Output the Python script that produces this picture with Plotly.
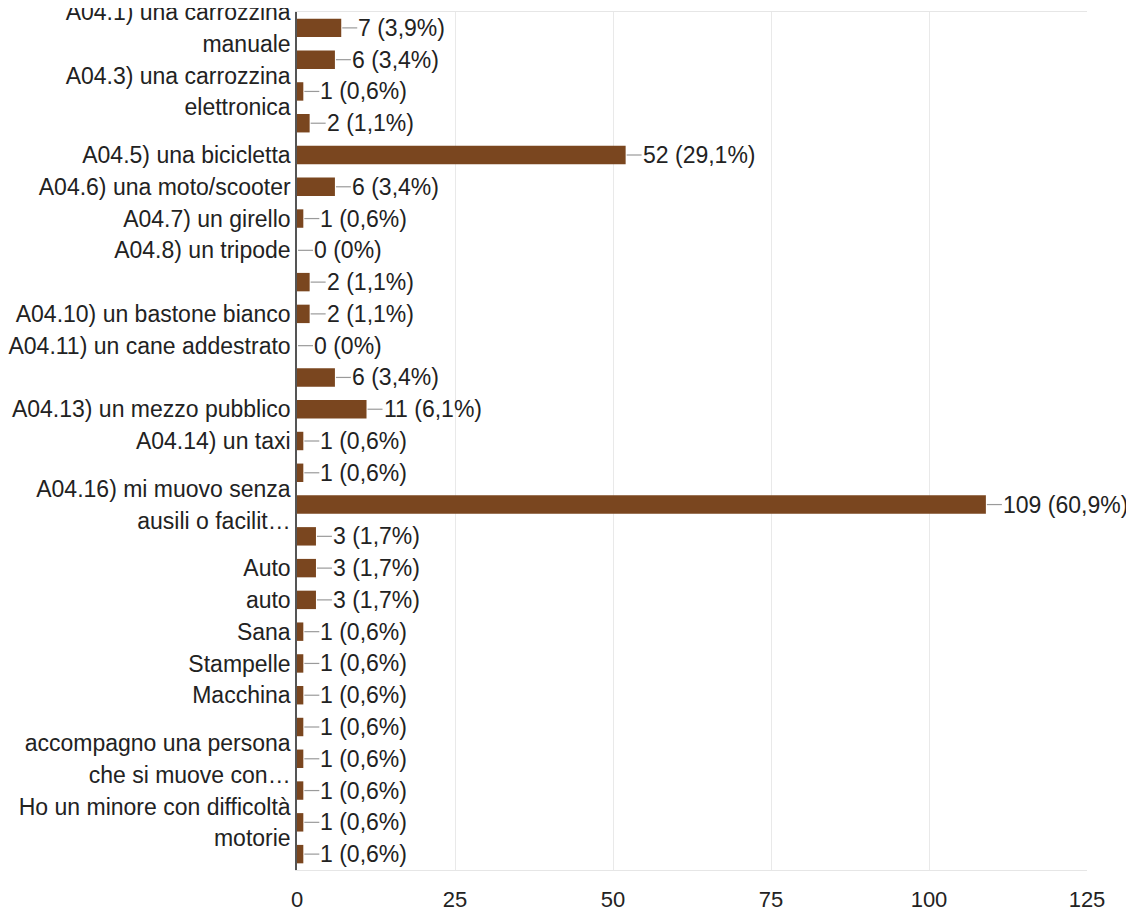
import plotly.graph_objects as go

# ---- data ----
counts = [7, 6, 1, 2, 52, 6, 1, 0, 2, 2, 0, 6, 11, 1, 1, 109, 3, 3, 3, 1, 1, 1, 1, 1, 1, 1, 1]
total_respondents = 179
tick_labels = [
    "A04.1) una carrozzina<br>manuale", "",
    "A04.3) una carrozzina<br>elettronica", "",
    "A04.5) una bicicletta",
    "A04.6) una moto/scooter",
    "A04.7) un girello",
    "A04.8) un tripode",
    "",
    "A04.10) un bastone bianco",
    "A04.11) un cane addestrato",
    "",
    "A04.13) un mezzo pubblico",
    "A04.14) un taxi",
    "",
    "A04.16) mi muovo senza<br>ausili o facilit…",
    "",
    "Auto",
    "auto",
    "Sana",
    "Stampelle",
    "Macchina",
    "",
    "accompagno una persona<br>che si muove con…",
    "",
    "Ho un minore con difficoltà<br>motorie",
    "",
]
x_ticks = [0, 25, 50, 75, 100, 125]

FONT = "Liberation Sans, Arial, Helvetica, sans-serif"
TXT = "#222222"
BAR = "#7a461f"

rows = list(range(len(counts)))

# each line of a label sits on its own half-row position
tickvals, ticktext = [], []
for i, lab in enumerate(tick_labels):
    if not lab:
        continue
    lines = lab.split("<br>")
    n = len(lines)
    for k, ln in enumerate(lines):
        tickvals.append(i + (k - (n - 1) / 2))
        ticktext.append(ln)


def fmt(v):
    p = round(v / total_respondents * 100, 1)
    if p == 0:
        ps = "0"
    else:
        ps = f"{p:.1f}".replace(".", ",")
    return f"{v} ({ps}%)"


fig = go.Figure()
fig.add_trace(go.Bar(
    x=counts, y=rows, orientation="h",
    marker=dict(color=BAR, line=dict(width=0)),
    width=0.58, hoverinfo="x",
))

for i, v in enumerate(counts):
    fig.add_shape(type="line", xref="x", yref="y", xsizemode="pixel",
                  xanchor=v, x0=1, x1=16, y0=i, y1=i,
                  line=dict(color="#9a9a9a", width=1.2))
    fig.add_annotation(x=v, y=i, xref="x", yref="y", text=fmt(v),
                       showarrow=False, xanchor="left", yanchor="middle",
                       xshift=15, font=dict(family=FONT, size=23, color=TXT))

# page body adds an 8px offset; the figure is sized to fit the window
fig.update_layout(
    width=1126, height=907,
    margin=dict(l=289, r=47, t=4, b=45),
    paper_bgcolor="white", plot_bgcolor="white",
    showlegend=False,
    bargap=0.4,
    font=dict(family=FONT, size=22, color=TXT),
)
fig.update_xaxes(
    range=[0, 125], tickvals=x_ticks, ticktext=[str(t) for t in x_ticks],
    showgrid=True, gridcolor="#e9e9e9", gridwidth=1,
    zeroline=False, showline=True, linecolor="#e6e6e6", linewidth=1, mirror=True,
    ticks="outside", ticklen=10, tickcolor="rgba(0,0,0,0)",
    tickfont=dict(family=FONT, size=22, color=TXT), fixedrange=True,
    automargin=False,
)
fig.update_yaxes(
    range=[len(counts) - 0.5, -0.5], tickmode="array",
    tickvals=tickvals, ticktext=ticktext,
    showgrid=False, zeroline=False,
    showline=True, linecolor="#555555", linewidth=1.5,
    ticks="", tickfont=dict(family=FONT, size=23, color=TXT), fixedrange=True,
    automargin=False, ticklabeloverflow="allow",
)

fig.write_html("out.html")
